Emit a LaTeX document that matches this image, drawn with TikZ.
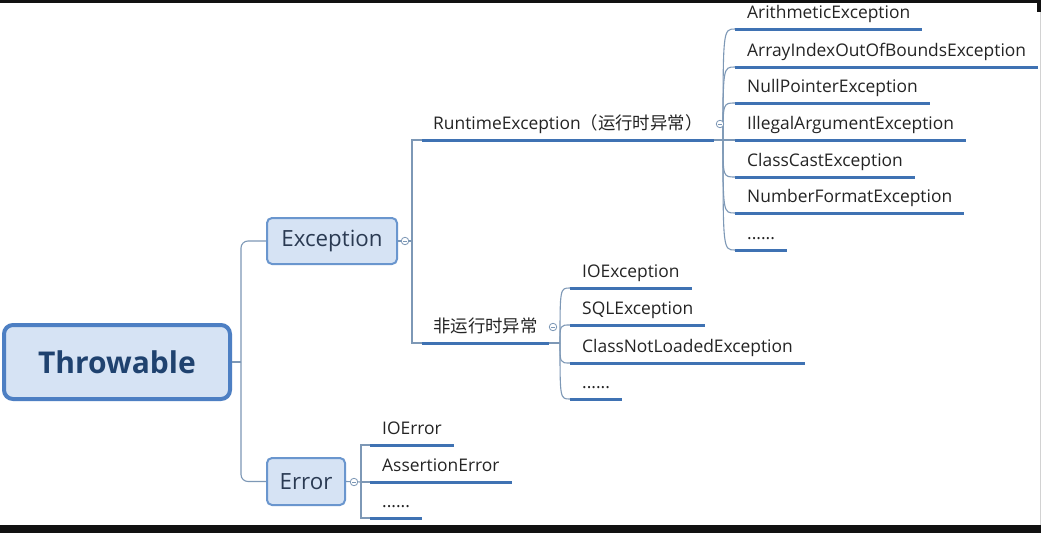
\documentclass[tikz,border=0pt]{standalone}
\usepackage{fontspec}
\setmainfont{Open Sans}
\newfontfamily\cjk{Noto Sans CJK SC}
\usetikzlibrary{calc}
\definecolor{lineblue}{HTML}{3F72B3}
\definecolor{conncol}{HTML}{7D98B6}
\definecolor{boxfill}{HTML}{D6E3F4}
\definecolor{boxedge}{HTML}{6A96CE}
\definecolor{topedge}{HTML}{4D7FC3}
\definecolor{boxtxt}{HTML}{2A3A52}
\definecolor{toptxt}{HTML}{1F426F}
\definecolor{leaftxt}{HTML}{242424}
\definecolor{frame}{HTML}{111111}
\begin{document}
\begin{tikzpicture}[x=1pt,y=-1pt,
 leaf/.style={anchor=south west, text=leaftxt, font=\fontsize{17.4}{20}\selectfont, inner xsep=12pt, inner ysep=0pt, text height=13pt, text depth=10pt},
 uline/.style={draw=lineblue, line width=3pt},
 conn/.style={draw=conncol, line width=1.1pt},
 box/.style={draw=boxedge, fill=boxfill, line width=2pt, rounded corners=5pt, text=boxtxt, font=\fontsize{22.3}{26}\selectfont, inner sep=0pt},
 topbox/.style={box, draw=topedge, line width=4pt, rounded corners=9pt, text=toptxt, font=\fontsize{30}{34}\selectfont\bfseries},
 fold/.style={circle, draw=conncol, fill=white, line width=0.8pt, minimum size=7.5pt, inner sep=0pt,
   path picture={\draw[conncol, line width=0.7pt] ([xshift=-2pt]path picture bounding box.center) -- ([xshift=2pt]path picture bounding box.center);}},
]
\useasboundingbox (0,0) rectangle (1041,533);
\fill[white] (0,0) rectangle (1041,533);
\fill[frame] (0,0) rectangle (1041,2.5);
\fill[frame] (1037,0) rectangle (1041,12);
\fill[frame] (0,525) rectangle (1041,533);
\draw[gray!35, line width=1pt] (1040,12) -- (1040,525);

% boxes
\node[topbox, minimum width=226pt, minimum height=74pt] (throw) at (117,362) {Throwable};
\node[box, minimum width=130pt, minimum height=46pt] (exc) at (332,241) {Exception};
\node[box, minimum width=78pt, minimum height=47pt] (err) at (306,481.5) {Error};

% second level
\node[leaf, inner xsep=11pt] (rt) at (422,140) {RuntimeException{\cjk（运行时异常）}};
\node[leaf, inner xsep=11pt] (nrt) at (422,343) {{\cjk 非运行时异常}};

% runtime children
\node[leaf] (ari) at (735,29) {ArithmeticException};
\node[leaf] (arr) at (735,67) {ArrayIndexOutOfBoundsException};
\node[leaf] (npe) at (735,103) {NullPointerException};
\node[leaf] (iae) at (735,140) {IllegalArgumentException};
\node[leaf] (cce) at (735,177) {ClassCastException};
\node[leaf] (nfe) at (735,213) {NumberFormatException};
\node[leaf] (rdots) at (735,250) {......};

% checked children
\node[leaf] (ioe) at (570,288) {IOException};
\node[leaf] (sql) at (570,325) {SQLException};
\node[leaf] (cnl) at (570,363) {ClassNotLoadedException};
\node[leaf] (ndots) at (570,399) {......};

% error children
\node[leaf] (ioerr) at (370,445) {IOError};
\node[leaf] (ass) at (370,482) {AssertionError};
\node[leaf] (edots) at (370,518) {......};

% junctions
\coordinate (tj) at (241,362);
\coordinate (ej) at (412,241);
\coordinate (rj) at (723,140);
\coordinate (nj) at (560,343);
\coordinate (errj) at (361,482);

% connectors
\draw[conn] (throw.east) -- (tj);
\draw[conn, rounded corners=7pt] (tj) |- (exc.west);
\draw[conn, rounded corners=7pt] (tj) |- (err.west);
\draw[conn] (exc.east) -- (ej);
\draw[conn] (ej) |- (rt.south west);
\draw[conn] (ej) |- (nrt.south west);
\draw[conn] (rt.south east) -- (rj);
\foreach \n in {ari,arr,npe,cce,nfe,rdots}
  \draw[conn] (rj) .. controls (rj |- \n.south west) .. (\n.south west);
\draw[conn] (rj) -- (iae.south west);
\draw[conn] (nrt.south east) -- (nj);
\foreach \n in {ioe,sql,cnl,ndots}
  \draw[conn] (nj) .. controls (nj |- \n.south west) .. (\n.south west);
\draw[conn] (err.east) -- (errj);
\foreach \n in {ioerr,ass,edots}
  \draw[conn] (errj) |- (\n.south west);

% underlines
\foreach \n in {rt,nrt,ari,arr,npe,iae,cce,nfe,rdots,ioe,sql,cnl,ndots,ioerr,ass,edots}
  \draw[uline] (\n.south west) -- (\n.south east);

% fold markers
\node[fold] (fe) at (405,241) {};
\node[fold] (fr) at (720,124) {};
\node[fold] (fn) at (553,327) {};
\node[fold] (ferr) at (354,482) {};
\end{tikzpicture}
\end{document}
